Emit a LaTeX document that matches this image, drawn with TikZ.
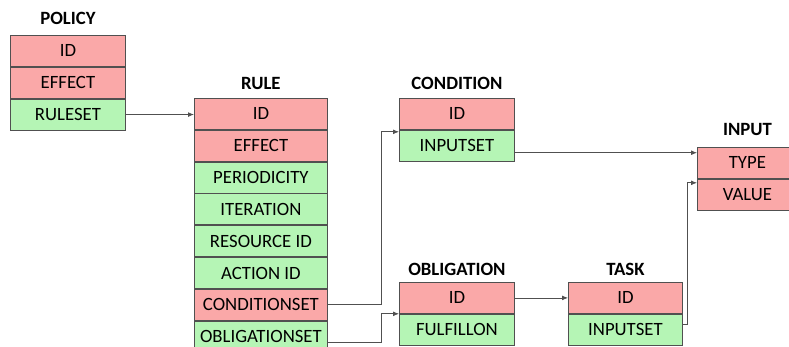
\documentclass[tikz,border=0pt]{standalone}
\usepackage{fontspec}
\setmainfont{Carlito}
\usepackage{tikz}
\usetikzlibrary{arrows.meta, positioning, calc}
\definecolor{keyred}{RGB}{250,168,168}
\definecolor{attrgreen}{RGB}{181,245,181}
\definecolor{edgegray}{RGB}{80,80,80}

\begin{document}
\begin{tikzpicture}[x=0.03cm, y=-0.03cm,
  field/.style={draw=edgegray, line width=0.7pt, minimum height=0.93cm, inner sep=0pt,
    font=\fontsize{16}{18}\selectfont},
  keyf/.style={field, fill=keyred},
  attrf/.style={field, fill=attrgreen},
  title/.style={font=\fontsize{16}{18}\selectfont\bfseries, inner sep=0pt, text depth=0pt},
  link/.style={draw=edgegray, line width=0.6pt, -{Latex[length=5pt,width=4pt]}}]
  \clip (0,0) rectangle (789,347);

  % policy
  \node[keyf, minimum width=3.45cm, anchor=north west] (pol-id) at (10,35) {ID};
  \node[keyf, minimum width=3.45cm, below=0pt of pol-id] (pol-effect) {EFFECT};
  \node[attrf, minimum width=3.45cm, below=0pt of pol-effect] (pol-ruleset) {RULESET};
  \node[title, above=9pt of pol-id] (pol-title) {POLICY};

  % rule
  \node[keyf, minimum width=3.99cm, anchor=north west] (rule-id) at (194,98) {ID};
  \node[keyf, minimum width=3.99cm, below=0pt of rule-id] (rule-effect) {EFFECT};
  \node[attrf, minimum width=3.99cm, below=0pt of rule-effect] (rule-period) {PERIODICITY};
  \node[attrf, minimum width=3.99cm, below=0pt of rule-period] (rule-iter) {ITERATION};
  \node[attrf, minimum width=3.99cm, below=0pt of rule-iter] (rule-res) {RESOURCE ID};
  \node[attrf, minimum width=3.99cm, below=0pt of rule-res] (rule-action) {ACTION ID};
  \node[keyf, minimum width=3.99cm, below=0pt of rule-action] (rule-condset) {CONDITIONSET};
  \node[attrf, minimum width=3.99cm, below=0pt of rule-condset] (rule-oblset) {OBLIGATIONSET};
  \node[title, above=7pt of rule-id] (rule-title) {RULE};

  % condition
  \node[keyf, minimum width=3.45cm, anchor=north west] (cond-id) at (399,98) {ID};
  \node[attrf, minimum width=3.45cm, below=0pt of cond-id] (cond-input) {INPUTSET};
  \node[title, above=7pt of cond-id] (cond-title) {CONDITION};

  % obligation
  \node[keyf, minimum width=3.45cm, anchor=north west] (obl-id) at (399,282) {ID};
  \node[attrf, minimum width=3.45cm, below=0pt of obl-id] (obl-fulfil) {FULFILLON};
  \node[title, above=5pt of obl-id] (obl-title) {OBLIGATION};

  % task
  \node[keyf, minimum width=3.42cm, anchor=north west] (task-id) at (568,282) {ID};
  \node[attrf, minimum width=3.42cm, below=0pt of task-id] (task-input) {INPUTSET};
  \node[title, above=5pt of task-id] (task-title) {TASK};

  % input
  \node[keyf, minimum width=3.0cm, anchor=north west] (input-type) at (697,147) {TYPE};
  \node[keyf, minimum width=3.0cm, below=0pt of input-type] (input-value) {VALUE};
  \node[title, above=10pt of input-type] (input-title) {INPUT};

  \draw[link] (pol-ruleset.east) -- (pol-ruleset.east -| rule-id.west);
  \draw[link] (rule-condset.east) -- ++(54,0) |- ($(cond-input.north west)+(0,2)$);
  \draw[link] ($(rule-oblset.east)+(0,6)$) -- ++(54,0) |- (obl-fulfil.north west);
  \coordinate (cond-out) at ($(cond-input.east)+(0,7)$);
  \draw[link] (cond-out) -- (cond-out -| input-type.west);
  \draw[link] (obl-id.east) -- (task-id.west);
  \draw[link] ($(task-input.east)+(0,-5)$) -- ++(5,0) |- ($(input-value.north west)+(0,4)$);
\end{tikzpicture}
\end{document}
